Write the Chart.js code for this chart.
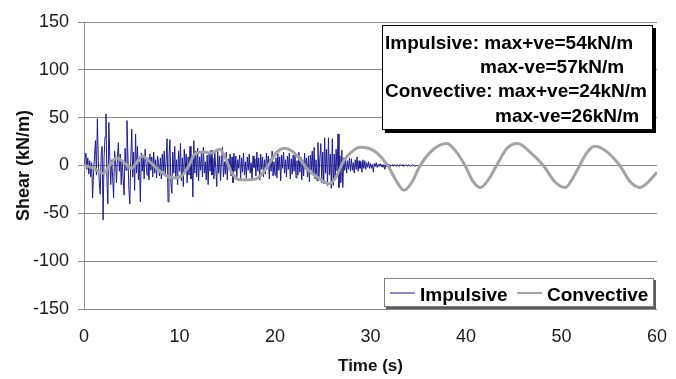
<!DOCTYPE html>
<html>
<head>
<meta charset="utf-8">
<script src="https://cdn.jsdelivr.net/npm/chart.js@4.4.1/dist/chart.umd.min.js"></script>
<style>
  html, body { margin: 0; padding: 0; background: #fff; }
  #wrap { width: 676px; height: 379px; }
</style>
</head>
<body>
<div id="wrap"><canvas id="shear-chart" width="676" height="379"></canvas></div>
<script>
// Convective shear (kN/m)
const convectiveTime = [0, 1, 2, 2.7, 3.4, 4.2, 5, 5.5, 6.1, 7,
    7.5, 8.5, 9.5, 10.3, 11, 11.6, 12.5, 13.3, 14.2, 14.8,
    15.5, 16.3, 17.2, 18, 18.7, 19.4, 20.2, 21, 21.8, 22.5,
    23.4, 24.4, 25.7, 26.4, 27.2, 28, 28.9, 29.8, 30.7, 31.8,
    32.7, 33.5, 34.3, 35.2, 36.6, 38, 39, 39.9, 40.7, 41.5,
    42.4, 43.2, 44.3, 45.4, 46.7, 48.1, 49.3, 50.4, 51.2, 51.9,
    52.7, 53.5, 54.8, 56.1, 57.2, 58.2, 59.1, 60];
const convectiveShear = [0, -3, -8, 0, 8, 3, -3, 3, 10, 3,
    -2, -10, -13, -10, 0, 12, 14, 13, 17, 8,
    -8, -15, -15, -14, -8, 2, 14, 18, 15, 8,
    -4, -12, -19, -12, 5, 14, 19, 18, 13, 0,
    -16, -26, -18, 0, 17, 23, 14, 0, -16, -23,
    -14, 0, 18, 23, 14, 0, -17, -23, -13, 0,
    14, 20, 14, 0, -17, -23, -17, -7];

// Impulsive shear (kN/m), one value every 0.1 s from 0 to 35 s
const impulsiveStep = 0.1;
const impulsiveShear = [
    0, 6, 13, -4, 8, -9, 5, -12, 3, -34,
    -8, 10, 26, -10, 49, 5, -18, -30, 12, 20,
    -57, 8, 30, 54, -15, -40, 45, 10, -20, 6,
    -12, -34, 15, 4, -18, 8, 24, -6, 12, -20,
    5, -14, -31, 18, -5, 47, 10, -25, -40, 6,
    38, -12, 14, -26, 33, -8, 20, -15, 4, -38,
    13, -6, 10, -14, 17, 2, -10, 8, -15, 12,
    -5, 9, -12, 14, -8, 6, -13, 10, 3, -11,
    8, -14, 12, -6, 15, -10, 5, 28, -38, 10,
    27, -18, -29, 14, -8, 20, -12, 6, -20, 15,
    -6, 23, -16, 8, -22, 17, -4, 12, -18, 9,
    -10, 20, -14, 6, -33, 26, -8, 15, -12, 18,
    -16, 9, -5, 14, -12, 19, -8, 4, -15, 11,
    -20, 12, -6, 16, -10, 8, -14, 13, -3, -22,
    15, -8, 10, -16, 6, 19, -12, 4, -9, 14,
    -15, 7, -4, 12, -11, 9, -18, 13, -6, 10,
    -12, 6, -3, 11, -14, 8, -7, 13, -10, 4,
    -13, 9, -5, 12, -8, 3, -15, 10, -2, 7,
    -11, 14, -6, 8, -15, 12, -4, 9, -12, 6,
    -9, 13, -3, 10, -14, 7, -6, 15, -11, 4,
    -10, 8, -13, 12, -5, 9, -16, 11, -3, 14,
    -8, 6, -12, 10, -4, 13, -14, 7, -9, 11,
    -6, 12, -13, 5, -10, 14, -7, 9, -15, 6,
    -11, 13, -4, 8, -12, 10, -17, 11, -5, 15,
    -9, 19, -14, 6, -16, 24, -12, 8, 23, -18,
    14, -19, 29, -8, 17, -21, 29, -10, 12, -24,
    28, -21, 12, -15, 17, -6, 33, -23, 10, -18,
    16, -23, 8, -5, 6, -8, 5, -4, 8, -6,
    7, -5, 3, -8, 6, -4, 9, -6, 5, -3,
    4, -7, 6, -3, 5, -4, 3, -2, 4, -3,
    2, -3, 1, -7, 2, -1, 3, -2, 1, -1,
    2, -1, 1, -2, 1, -4, 1, -1, 2, -1,
    1, -1, 0, 1, -1, 1, 0, -1, 1, 0,
    -1, 1, 0, 0, 1, -1, 0, 1, 0, -1,
    1, 0, -1, 0, 1, 0, 0, -1, 0, 0,
    0
];

const xTicks = [0, 10, 20, 30, 40, 50, 60];
const yTicks = [-150, -100, -50, 0, 50, 100, 150];
const seriesNames = ['Impulsive', 'Convective'];
const noteLines = [
    'Impulsive: max+ve=54kN/m',
    'max-ve=57kN/m',
    'Convective: max+ve=24kN/m',
    'max-ve=26kN/m'
];

const FONT = '"Liberation Sans", Arial, sans-serif';
const IMP_COLOR = '#1c1c94';
const CONV_COLOR = '#a3a3a3';
const GRID_COLOR = '#8c8c8c';

const impulsivePoints = impulsiveShear.map((v, i) => ({ x: +(i * impulsiveStep).toFixed(1), y: v }));
const convectivePoints = convectiveTime.map((t, i) => ({ x: t, y: convectiveShear[i] }));

// Text box and legend drawn the way the spreadsheet did them
const boxesPlugin = {
    id: 'boxes',
    afterDraw(chart) {
        const ctx = chart.ctx;
        ctx.save();

        // note box with black drop shadow
        ctx.fillStyle = '#000';
        ctx.fillRect(385, 28, 271, 105);
        ctx.fillStyle = '#fff';
        ctx.fillRect(382, 25, 271, 105);
        ctx.strokeStyle = '#000';
        ctx.lineWidth = 1;
        ctx.strokeRect(382.5, 25.5, 270, 104);
        ctx.font = 'bold 19px ' + FONT;
        ctx.fillStyle = '#000';
        ctx.textBaseline = 'alphabetic';
        const noteX = [385, 480, 385, 495];
        const noteY = [49, 73, 97, 122];
        noteLines.forEach((txt, i) => ctx.fillText(txt, noteX[i], noteY[i]));

        // legend
        ctx.fillStyle = '#5a5a5a';
        ctx.fillRect(386, 280, 270, 29);
        ctx.fillStyle = '#fff';
        ctx.fillRect(384, 278, 270, 29);
        ctx.strokeStyle = '#808080';
        ctx.strokeRect(384.5, 278.5, 269, 28);

        ctx.strokeStyle = IMP_COLOR;
        ctx.lineWidth = 1;
        ctx.beginPath();
        ctx.moveTo(390, 293);
        ctx.lineTo(415, 293);
        ctx.stroke();

        ctx.strokeStyle = CONV_COLOR;
        ctx.lineWidth = 2;
        ctx.beginPath();
        ctx.moveTo(517, 293);
        ctx.lineTo(542, 293);
        ctx.stroke();

        ctx.fillStyle = '#000';
        ctx.fillText(seriesNames[0], 420, 301);
        ctx.fillText(seriesNames[1], 547, 301);
        ctx.restore();
    }
};

const ctx = document.getElementById('shear-chart').getContext('2d');
new Chart(ctx, {
    type: 'line',
    data: {
        datasets: [
            {
                label: seriesNames[1],
                data: convectivePoints,
                borderColor: CONV_COLOR,
                borderWidth: 3,
                pointRadius: 0,
                cubicInterpolationMode: 'monotone',
                fill: false,
                order: 0,
            },
            {
                label: seriesNames[0],
                data: impulsivePoints,
                borderColor: IMP_COLOR,
                borderWidth: 1,
                pointRadius: 0,
                tension: 0,
                fill: false,
                order: 1,
            },
        ],
    },
    options: {
        responsive: false,
        animation: false,
        devicePixelRatio: 1,
        layout: { padding: { top: 22, right: 19, left: 0, bottom: 0 } },
        plugins: {
            legend: { display: false },
            tooltip: { enabled: false },
        },
        scales: {
            x: {
                type: 'linear',
                min: xTicks[0],
                max: xTicks[xTicks.length - 1],
                afterFit: (scale) => {
                    scale.height = 70;
                    scale.paddingLeft = 0;
                    scale.paddingRight = 0;
                },
                afterBuildTicks: (scale) => { scale.ticks = xTicks.map(v => ({ value: v })); },
                grid: { display: false, drawTicks: false },
                border: { display: false },
                ticks: {
                    padding: 17,
                    color: '#1a1a1a',
                    font: { family: FONT, size: 18 },
                    maxRotation: 0,
                },
                title: {
                    display: true,
                    text: 'Time (s)',
                    color: '#111',
                    font: { family: FONT, size: 17, weight: 'bold' },
                    padding: { top: 0, bottom: 2 },
                },
            },
            y: {
                min: yTicks[0],
                max: yTicks[yTicks.length - 1],
                afterFit: (scale) => { scale.width = 84; },
                afterBuildTicks: (scale) => { scale.ticks = yTicks.map(v => ({ value: v })); },
                grid: { color: GRID_COLOR, lineWidth: 1, drawTicks: true, tickLength: 6 },
                border: { display: true, color: GRID_COLOR },
                ticks: {
                    padding: 9,
                    color: '#1a1a1a',
                    font: { family: FONT, size: 18 },
                },
                title: {
                    display: true,
                    text: 'Shear (kN/m)',
                    color: '#111',
                    font: { family: FONT, size: 18, weight: 'bold' },
                    padding: { top: 13, bottom: 0 },
                },
            },
        },
    },
    plugins: [boxesPlugin],
});
</script>
</body>
</html>
